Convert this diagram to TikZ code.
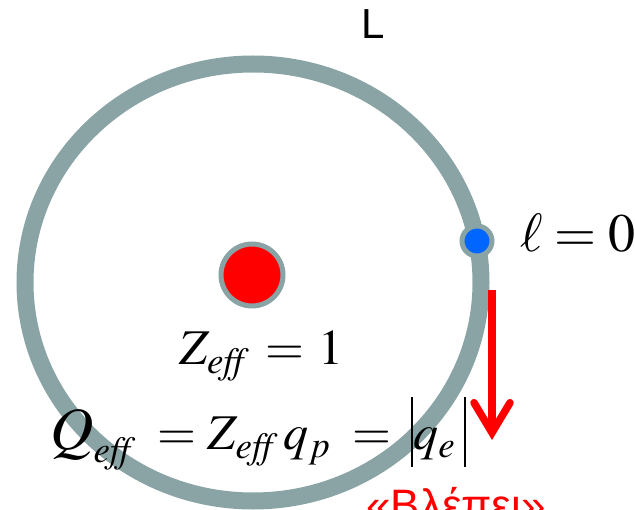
\documentclass[tikz,border=0pt]{standalone}
\definecolor{ringgrey}{RGB}{138, 164, 166}
\definecolor{nucred}{RGB}{255, 0, 0}
\definecolor{elecblue}{RGB}{0, 102, 255}
\usepackage{mathptmx}
\usepackage[no-math]{fontspec}
\newfontfamily\labelfont{Liberation Sans}
\usepackage{tikz}
\usetikzlibrary{arrows.meta, positioning, calc}
\newcommand{\absbar}{\mathord{\rule[-17pt]{2.5pt}{70pt}}}

\begin{document}
\begin{tikzpicture}[x=1pt, y=-1pt,
  orbit/.style={draw=ringgrey, line width=17pt},
  nucleus/.style={circle, fill=nucred, draw=ringgrey, line width=5pt, minimum size=62pt, inner sep=0pt},
  electron/.style={circle, fill=elecblue, draw=ringgrey, line width=5pt, minimum size=30pt, inner sep=0pt},
  eqn/.style={anchor=base west, inner sep=0pt, font=\fontsize{50}{54}\selectfont},
  tag/.style={anchor=base west, inner sep=0pt, font=\labelfont\fontsize{42}{46}\selectfont},
  fall/.style={-{Straight Barb[length=30pt, width=36pt, line cap=round]}, draw=nucred, line width=7.5pt}
]
  \clip (0,0) rectangle (635,510);

  % orbit and particles
  \coordinate (ctr) at (253,282.5);
  \draw[orbit] (ctr) ellipse [x radius=228pt, y radius=218.5pt];
  \node[nucleus] (nuc) at (252,275) {};
  \node[electron] (elec) at (477,241) {};

  \node[tag] (lname) at (361,39) {L};
  \node[eqn, font=\fontsize{54}{58}\selectfont] (lzero) at (520,252) {$\ell=0$};

  % charges
  \node[eqn] (zeff) at (179,365) {$Z_{\mathit{eff}}\;\,{=}\mkern5mu1$};
  \node[eqn] (qeff) at (50,450) {$\mbox{\fontsize{60}{60}\selectfont$Q$}_{\mathit{eff}}\;=Z_{\mathit{eff}}\,q_{p}\;=\mkern3mu\absbar q_{e}\mkern3mu\absbar$};

  % what the electron sees
  \coordinate (fallstart) at (492,290);
  \coordinate (fallend) at (492,440);
  \draw[fall] (fallstart) -- (fallend);
  \node[tag, text=nucred, font=\labelfont\fontsize{44}{48}\selectfont] (sees) at (366,521) {«Βλέπει»};
\end{tikzpicture}
\end{document}
